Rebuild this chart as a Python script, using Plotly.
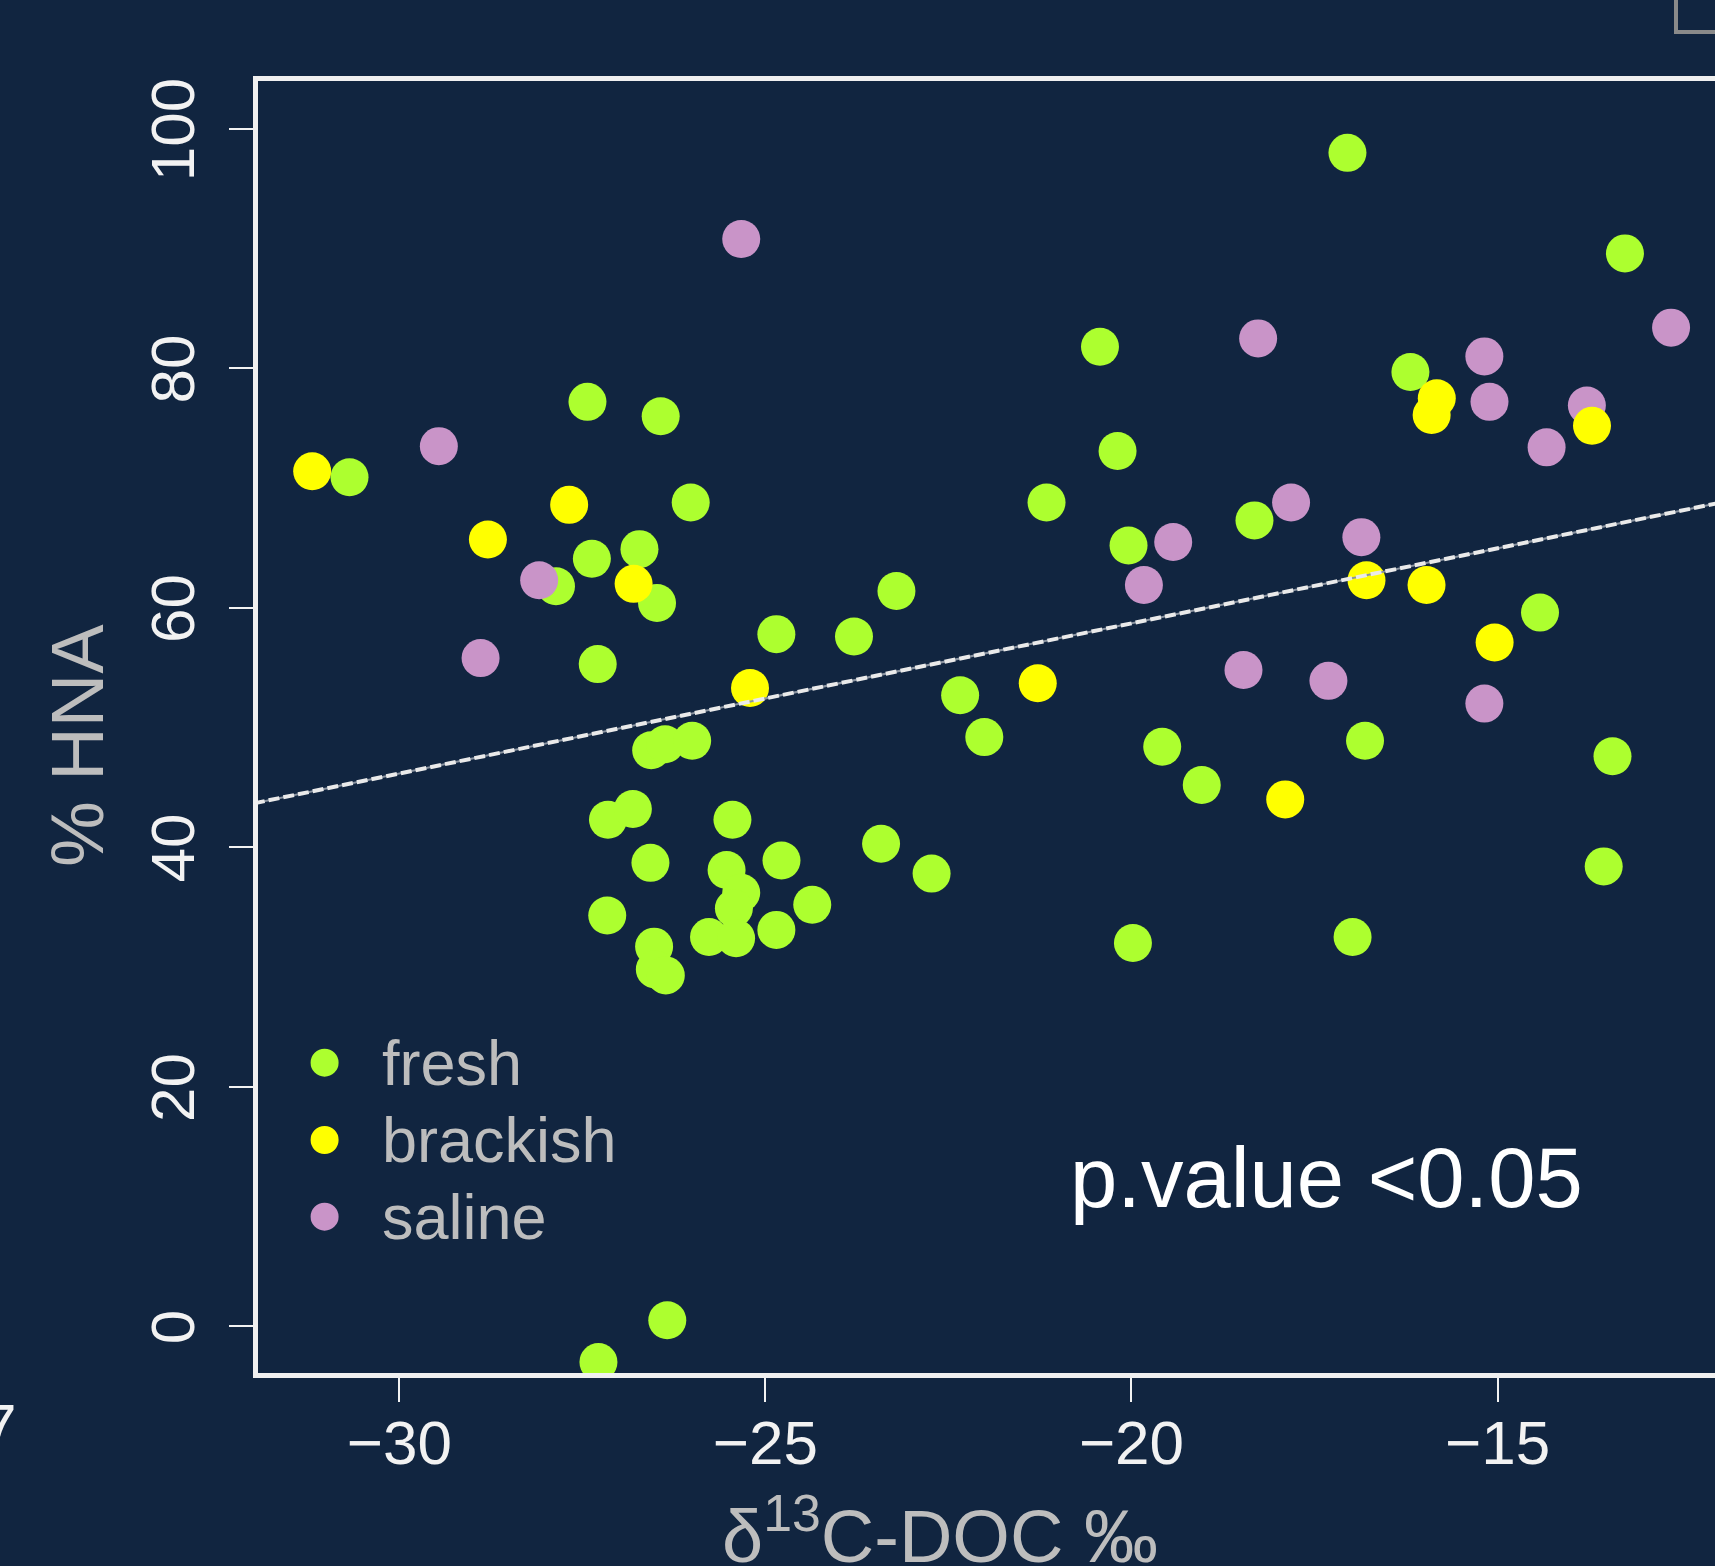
import plotly.graph_objects as go

# ---- data ----
fresh_x = [-30.68, -27.43, -26.43, -26.02, -27.37, -26.72, -27.86, -26.48, -27.29,
           -20.43, -20.19, -21.16, -20.04, -23.21, -24.85, -23.79, -22.34,
           -17.05, -13.26, -16.19, -18.32, -14.42, -16.81, -13.43, -13.55, -16.98,
           -22.01, -19.58, -19.04, -24.78, -23.42, -22.73, -24.36, -24.85, -19.98,
           -26.56, -26.37, -26.00, -27.15, -26.81, -25.45, -26.57, -25.53, -25.33,
           -25.43, -27.16, -26.52, -25.77, -25.40, -26.51, -26.36, -26.34, -27.28]
fresh_y = [70.9, 77.2, 76.0, 68.8, 64.1, 64.9, 61.8, 60.4, 55.3,
           81.8, 73.1, 68.8, 65.2, 61.4, 57.8, 57.6, 52.7,
           98.0, 89.6, 79.7, 67.3, 59.6, 48.9, 47.6, 38.4, 32.5,
           49.2, 48.4, 45.2, 38.9, 40.3, 37.8, 35.2, 33.1, 32.0,
           48.1, 48.6, 48.9, 42.3, 43.2, 42.3, 38.7, 38.1, 36.2,
           34.9, 34.3, 31.7, 32.5, 32.4, 29.8, 29.3, 0.5, -3.0]

brackish_x = [-31.19, -27.68, -28.79, -26.80, -25.21, -21.28, -15.83, -15.90,
              -13.71, -16.79, -15.97, -15.04, -17.90]
brackish_y = [71.4, 68.6, 65.7, 62.0, 53.3, 53.7, 77.5, 76.1,
              75.2, 62.3, 61.9, 57.1, 44.0]

saline_x = [-29.46, -25.33, -28.09, -28.89, -19.43, -19.83, -18.27, -12.63,
            -15.18, -15.11, -13.78, -14.33, -17.82, -16.86, -18.47, -17.31, -15.18]
saline_y = [73.5, 90.8, 62.3, 55.8, 65.5, 61.9, 82.5, 83.4,
            81.0, 77.2, 76.9, 73.4, 68.8, 65.9, 54.8, 53.9, 52.0]

fit_intercept = 83.78
fit_slope = 1.254

x_ticks = [-30, -25, -20, -15]
y_ticks = [0, 20, 40, 60, 80, 100]
x_range = [-31.93, -12.03]
y_range = [-3.91, 104.0]

categories = ["fresh", "brackish", "saline"]
colors = {"fresh": "#ADFF2F", "brackish": "#FFFF00", "saline": "#C994C8"}

# ---- figure ----
W, H = 1715, 1566
ML, MR, MT, MB = 258, 0, 81, 193
PW, PH = W - ML - MR, H - MT - MB

def px(X):
    return (X - ML) / PW

def py(Y):
    return (H - MB - Y) / PH

BG = "#112540"
FONT = "Liberation Sans, Arial, Helvetica, sans-serif"
GREY = "#BDBDBD"
WHITE = "#F2F2F2"

fig = go.Figure()
MS = 38
fig.add_trace(go.Scatter(x=fresh_x, y=fresh_y, mode="markers", name="fresh",
                         marker=dict(size=MS, color=colors["fresh"], line=dict(width=0))))
fig.add_trace(go.Scatter(x=saline_x, y=saline_y, mode="markers", name="saline",
                         marker=dict(size=MS, color=colors["saline"], line=dict(width=0))))
fig.add_trace(go.Scatter(x=brackish_x, y=brackish_y, mode="markers", name="brackish",
                         marker=dict(size=MS, color=colors["brackish"], line=dict(width=0))))

line_x = [-36, -8]
line_y = [fit_intercept + fit_slope * v for v in line_x]
fig.add_trace(go.Scatter(x=line_x, y=line_y, mode="lines", name="fit",
                         line=dict(color="#8A93A0", width=2)))
fig.add_trace(go.Scatter(x=line_x, y=line_y, mode="lines", name="fit dashed",
                         line=dict(color="#EAEAEA", width=4, dash="11px,4px")))

annotations = []
# legend (manual)
leg_y = [1062.7, 1140.0, 1216.7]
shapes = []
for cat, yy in zip(categories, leg_y):
    shapes.append(dict(type="circle", xref="paper", yref="paper",
                       xsizemode="pixel", ysizemode="pixel",
                       xanchor=px(324.6), yanchor=py(yy),
                       x0=-14, x1=14, y0=-14, y1=14,
                       fillcolor=colors[cat], line=dict(width=0)))
    annotations.append(dict(text=cat, xref="paper", yref="paper", x=px(380), y=py(yy),
                            xanchor="left", yanchor="middle", showarrow=False,
                            font=dict(family=FONT, size=63, color=GREY)))

annotations.append(dict(text="p.value <0.05", xref="paper", yref="paper",
                        x=px(1067.5), y=py(1177), xanchor="left", yanchor="middle",
                        showarrow=False, font=dict(family=FONT, size=85, color="#FFFFFF")))

# axis titles
annotations.append(dict(text="δ<sup>13</sup>C-DOC ‰", xref="paper", yref="paper",
                        x=px(940), y=py(1531), xanchor="center", yanchor="middle",
                        showarrow=False, font=dict(family=FONT, size=74, color=GREY)))
annotations.append(dict(text="% HNA", xref="paper", yref="paper", textangle=-90,
                        x=px(78), y=py(746), xanchor="center", yanchor="middle",
                        showarrow=False, font=dict(family=FONT, size=74, color=GREY)))
# fragment of a neighbouring panel's label
annotations.append(dict(text="7", xref="paper", yref="paper",
                        x=px(19), y=py(1428), xanchor="right", yanchor="middle",
                        showarrow=False, font=dict(family=FONT, size=64, color=WHITE)))

# fragment of neighbouring panel's box (top right)
shapes.append(dict(type="path", xref="paper", yref="paper",
                   path=f"M {px(1676)},{py(-10)} L {px(1676)},{py(32)} L {px(1730)},{py(32)}",
                   line=dict(color="#8A8A8A", width=4)))

fig.update_layout(
    width=W, height=H,
    margin=dict(l=ML, r=MR, t=MT, b=MB, pad=0),
    paper_bgcolor=BG, plot_bgcolor=BG,
    showlegend=False,
    font=dict(family=FONT, color=WHITE),
    annotations=annotations,
    shapes=shapes,
    xaxis=dict(range=x_range, tickvals=x_ticks, ticks="outside", ticklen=24,
               tickwidth=2, tickcolor=WHITE, showline=True, linewidth=5,
               linecolor="#F0F0F0", mirror=True, showgrid=False, zeroline=False,
               ticklabelstandoff=-12,
               tickfont=dict(family=FONT, size=62, color=WHITE)),
    yaxis=dict(range=y_range, tickvals=y_ticks, ticks="outside", ticklen=24,
               tickwidth=2, tickcolor=WHITE, showline=True, linewidth=5,
               linecolor="#F0F0F0", mirror=False, showgrid=False, zeroline=False,
               tickangle=-90, ticklabelstandoff=10, ticklabelshift=10,
               tickfont=dict(family=FONT, size=62, color=WHITE)),
)

fig.write_html("out.html", config={"displayModeBar": False},
               post_script="document.body.style.margin='0';document.body.style.background='#112540';")
